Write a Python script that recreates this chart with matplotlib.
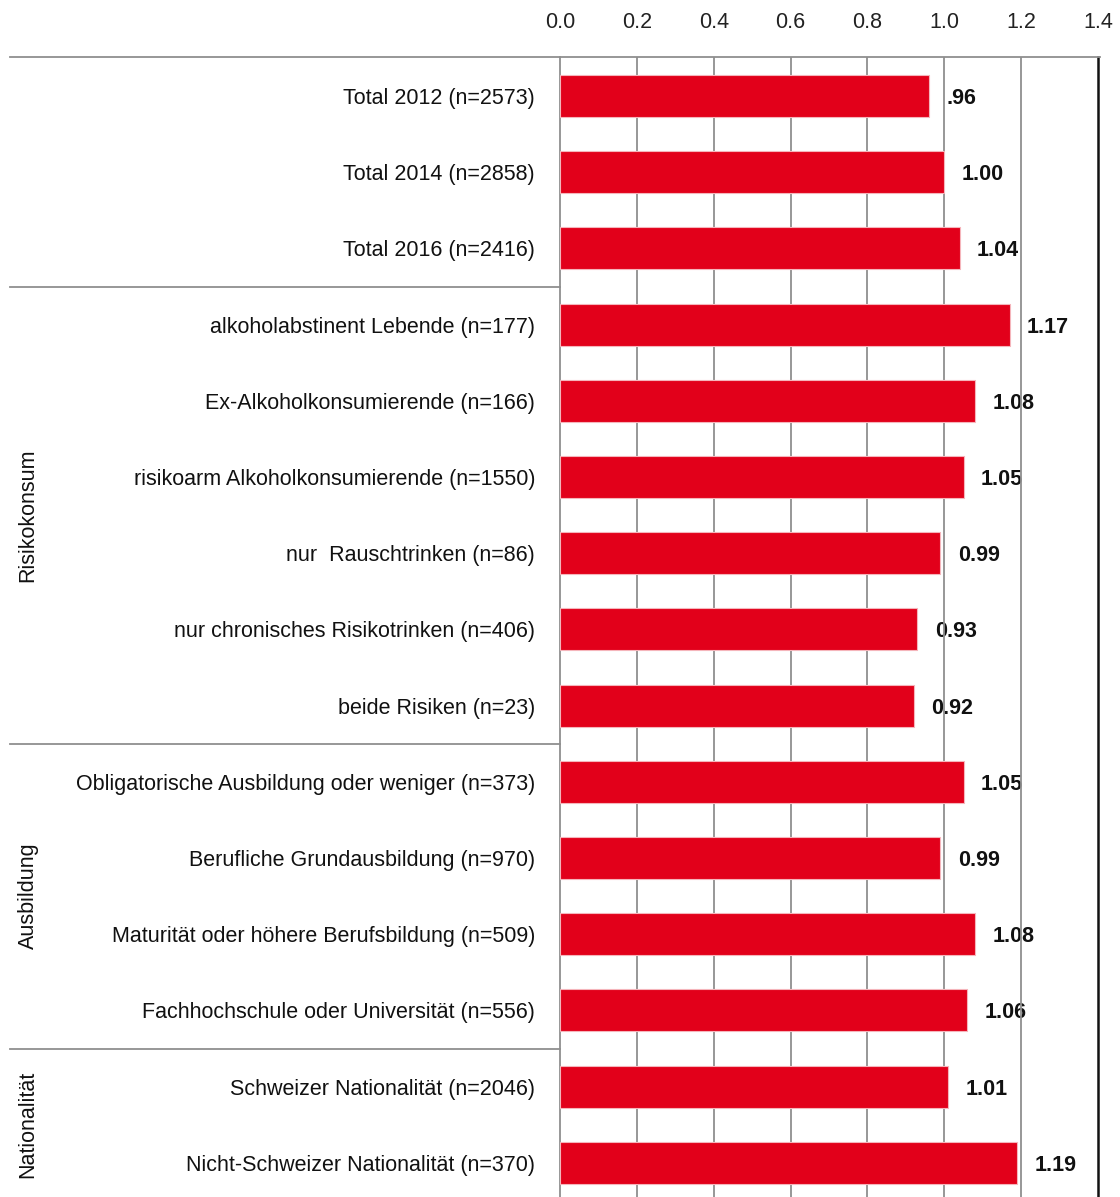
import matplotlib
matplotlib.use("Agg")
import matplotlib.pyplot as plt
from matplotlib.lines import Line2D
import matplotlib.transforms as mtransforms

plt.rcParams['font.family'] = ['Liberation Sans', 'DejaVu Sans']

categories = [
    "Total 2012 (n=2573)",
    "Total 2014 (n=2858)",
    "Total 2016 (n=2416)",
    "alkoholabstinent Lebende (n=177)",
    "Ex-Alkoholkonsumierende (n=166)",
    "risikoarm Alkoholkonsumierende (n=1550)",
    "nur  Rauschtrinken (n=86)",
    "nur chronisches Risikotrinken (n=406)",
    "beide Risiken (n=23)",
    "Obligatorische Ausbildung oder weniger (n=373)",
    "Berufliche Grundausbildung (n=970)",
    "Maturität oder höhere Berufsbildung (n=509)",
    "Fachhochschule oder Universität (n=556)",
    "Schweizer Nationalität (n=2046)",
    "Nicht-Schweizer Nationalität (n=370)",
]
values = [0.96, 1.00, 1.04, 1.17, 1.08, 1.05, 0.99, 0.93, 0.92,
          1.05, 0.99, 1.08, 1.06, 1.01, 1.19]
value_labels = [".96", "1.00", "1.04", "1.17", "1.08", "1.05", "0.99", "0.93", "0.92",
                "1.05", "0.99", "1.08", "1.06", "1.01", "1.19"]
xticks = [0.0, 0.2, 0.4, 0.6, 0.8, 1.0, 1.2, 1.4]
xtick_labels = ["0.0", "0.2", "0.4", "0.6", "0.8", "1.0", "1.2", "1.4"]
groups = [("Risikokonsum", 3, 8), ("Ausbildung", 9, 12), ("Nationalität", 13, 14)]
separators = [2.5, 8.5, 12.5]

W, H = 1120, 1197
fig = plt.figure(figsize=(W / 100, H / 100), dpi=100)
ax_left, ax_right = 560 / W, 1098 / W
ax_top = 1 - 57 / H
ax = fig.add_axes([ax_left, 0.0, ax_right - ax_left, ax_top])

row_px = 76.2
top_off = 39 / row_px
ylim_top = -top_off
ylim_bot = ylim_top + (H - 57) / row_px

red = "#E2001A"
grid_c = "#8f8f8f"
fs = 15.5

y = list(range(len(categories)))
ax.barh(y, values, height=0.55, color=red, edgecolor="#f5b5bb", linewidth=0.8, zorder=3)

ax.set_xlim(0, 1.4)
ax.set_ylim(ylim_bot, ylim_top)

for xv in xticks[1:-1]:
    ax.axvline(xv, color=grid_c, lw=1.3, zorder=2)

for yi, v, lab in zip(y, values, value_labels):
    ax.text(v + 0.045, yi, lab, ha="left", va="center_baseline", fontsize=fs,
            fontweight="bold", color="#111111", zorder=1)

ax.xaxis.tick_top()
ax.set_xticks(xticks)
ax.set_xticklabels(xtick_labels, fontsize=fs, color="#222222")
ax.tick_params(axis="x", length=0, pad=17)
ax.set_yticks(y)
ax.set_yticklabels(categories, fontsize=fs, color="#111111")
ax.tick_params(axis="y", length=0, pad=18)

ax.spines["bottom"].set_visible(False)
ax.spines["left"].set_color(grid_c)
ax.spines["left"].set_linewidth(1.3)
ax.spines["top"].set_visible(False)
ax.spines["right"].set_color("#111111")
ax.spines["right"].set_linewidth(1.8)

# top line extended to the left
fig.add_artist(Line2D([10 / W, 1100 / W], [ax_top, ax_top], color=grid_c, lw=1.3))

trans = mtransforms.blended_transform_factory(ax.transAxes, ax.transData)
x_start = (10 - 560) / (1098 - 560)
for sy in separators:
    ax.plot([x_start, 0], [sy, sy], color=grid_c, lw=1.3, transform=trans, clip_on=False)

gtrans = mtransforms.blended_transform_factory(fig.transFigure, ax.transData)
for name, a, b in groups:
    ax.text(28 / W, (a + b) / 2, name, rotation=90, ha="center", va="center",
            fontsize=fs, color="#111111", transform=gtrans)

fig.savefig("out.png", dpi=100)
